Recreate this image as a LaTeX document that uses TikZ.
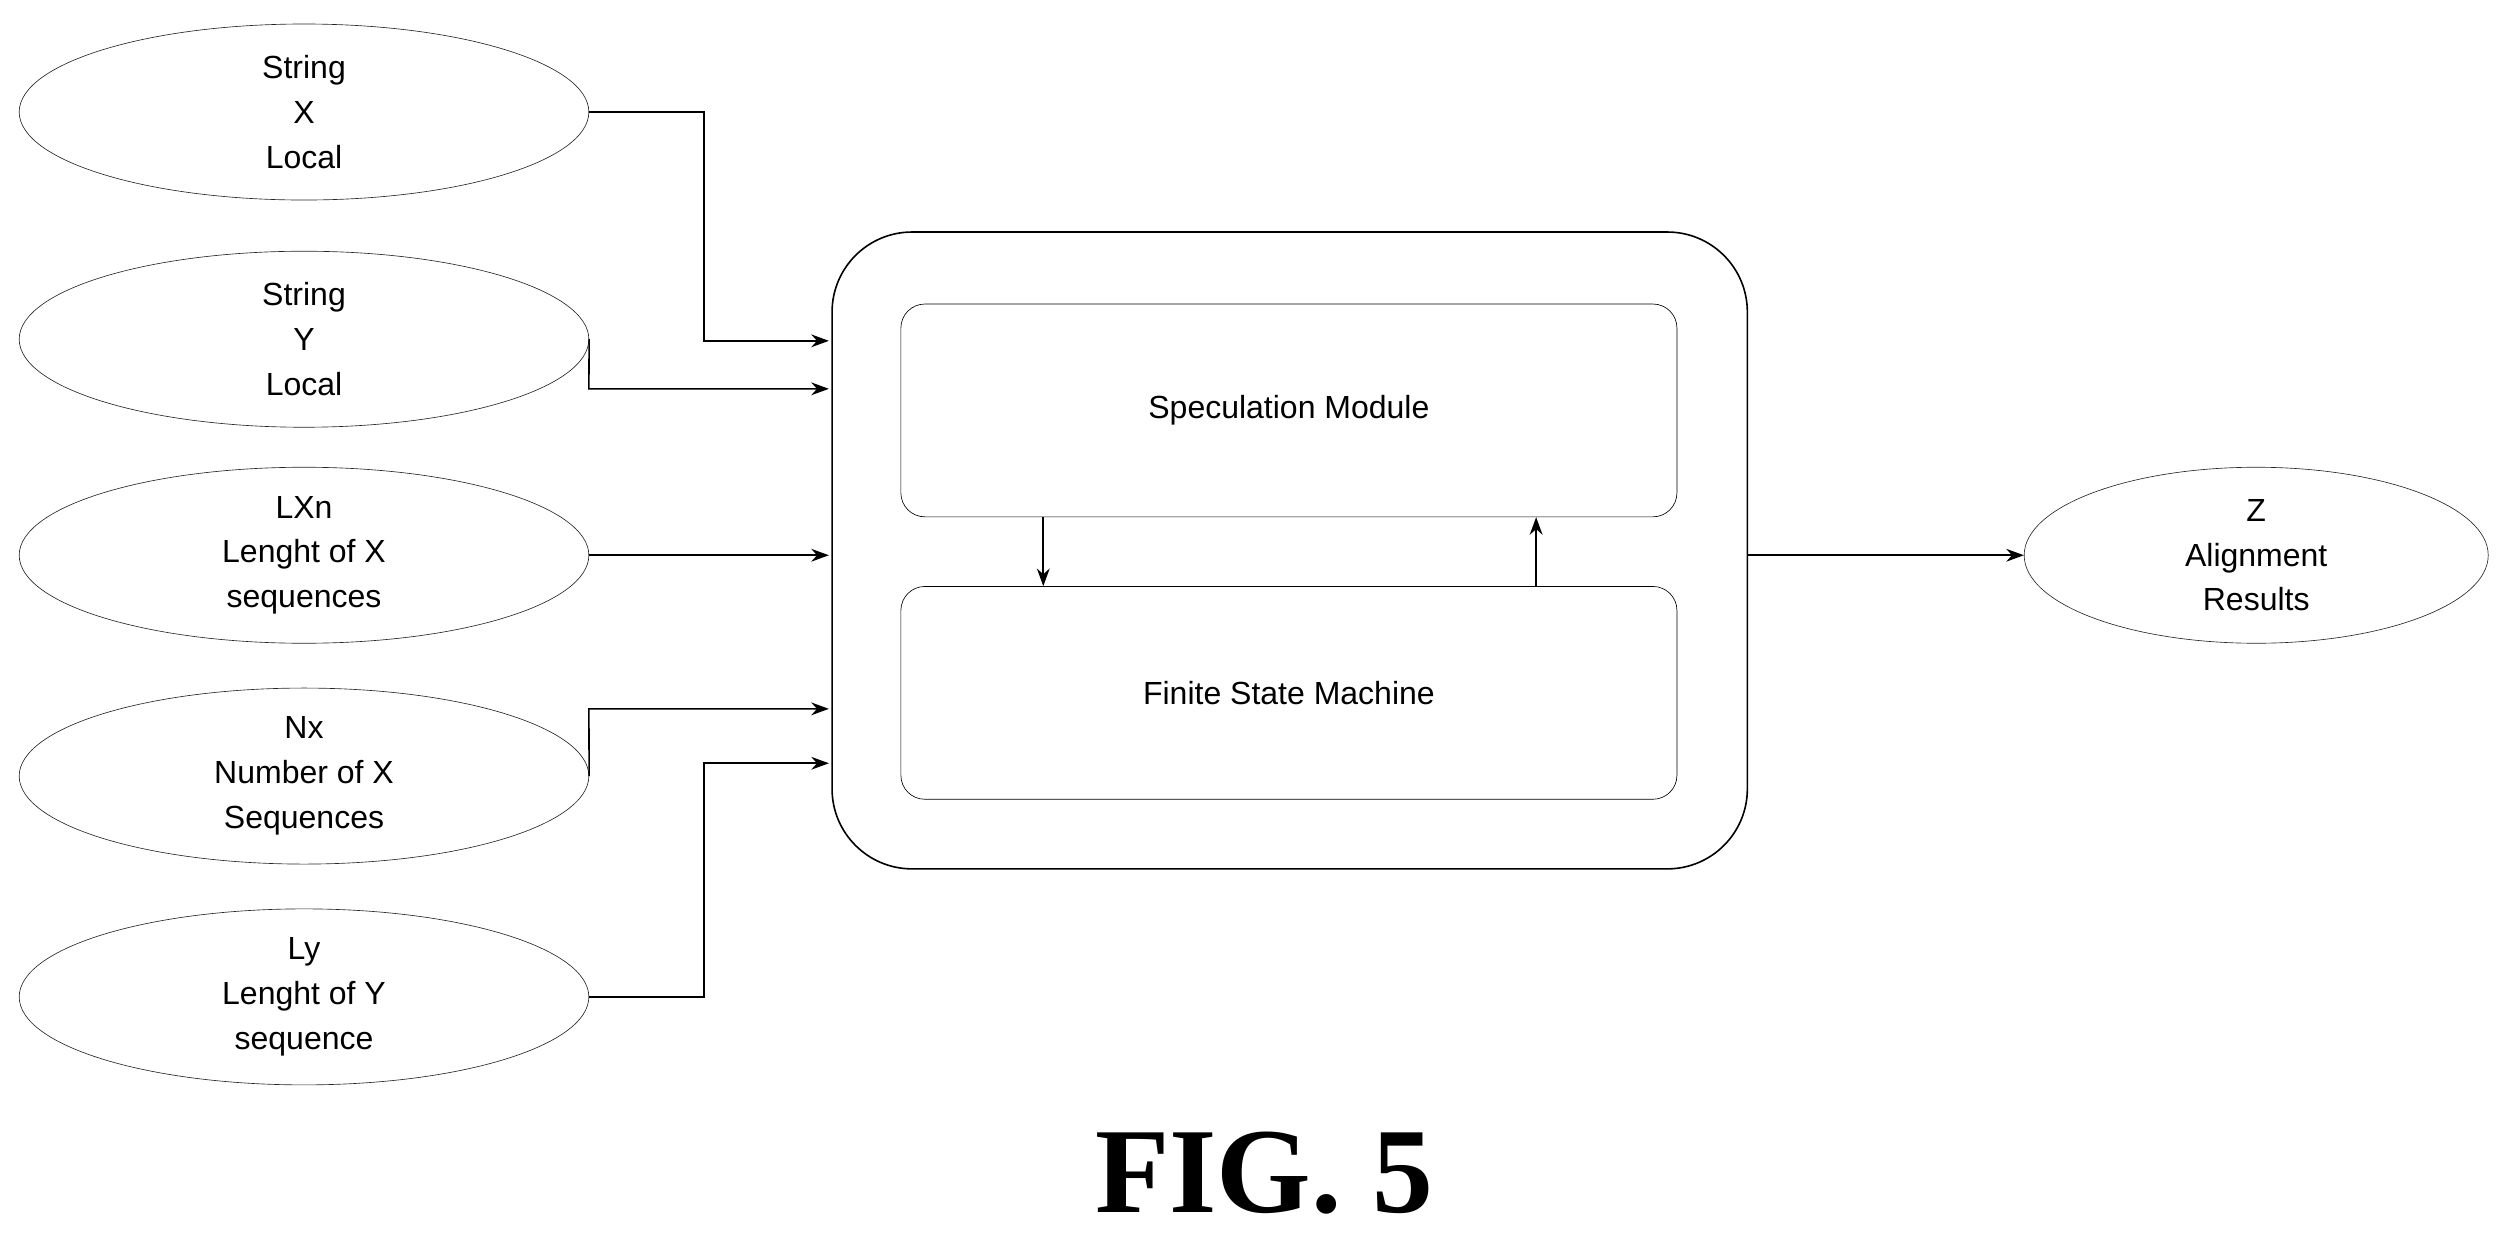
\documentclass[tikz,border=0pt]{standalone}
\usepackage{fontspec}
\setmainfont{Liberation Sans}
\newfontfamily\figfont{Liberation Serif}
\usetikzlibrary{shapes.geometric,positioning,arrows.meta}
\tikzset{
  inp/.style={draw=black!85,ellipse,minimum width=356pt,minimum height=110pt,align=center,font=\fontsize{20}{28}\selectfont,inner sep=0pt},
  blk/.style={draw,rounded corners=15pt,minimum width=485pt,minimum height=133pt,font=\fontsize{20}{24}\selectfont},
  flow/.style={-{Stealth[length=11pt,width=8pt]},line width=1pt}
}
\begin{document}
\begin{tikzpicture}[x=1pt,y=1pt,yscale=-1]
    \useasboundingbox (0,0) rectangle (1568,771);
    % inputs
    \node[inp] (sx) at (190,70) {String\\X\\Local};
    \node[inp] (sy) at (190,212) {String\\Y\\Local};
    \node[inp] (lxn) at (190,347) {LXn\\Lenght of X\\sequences};
    \node[inp] (nx) at (190,485) {Nx\\Number of X\\Sequences};
    \node[inp] (ly) at (190,623) {Ly\\Lenght of Y\\sequence};
    % processor
    \draw[line width=1pt,rounded corners=50pt] (520,145) rectangle (1092,543);
    \coordinate (outL) at (520,347);
    \coordinate (outR) at (1092,347);
    \node[blk] (spec) at (805.5,256.5) {Speculation Module};
    \node[blk] (fsm) at (805.5,433) {Finite State Machine};
    % output
    \node[inp,minimum width=290pt] (z) at (1410,347) {Z\\Alignment\\Results};
    % connectors
    \draw[flow] (sx.east) -- (440,70) |- (518,213);
    \draw[flow] (sy.east) -- (368,243) -- (518,243);
    \draw[flow] (lxn.east) -- (518,347);
    \draw[flow] (nx.east) -- (368,443) -- (518,443);
    \draw[flow] (ly.east) -- (440,623) |- (518,477);
    \draw[flow] (spec.south -| 652,0) -- (fsm.north -| 652,0);
    \draw[flow] (fsm.north -| 960,0) -- (spec.south -| 960,0);
    \draw[flow] (outR) -- (z.west);
    \node[font=\figfont\bfseries\fontsize{76}{80}\selectfont] (fig) at (790,733) {FIG. 5};
\end{tikzpicture}
\end{document}
